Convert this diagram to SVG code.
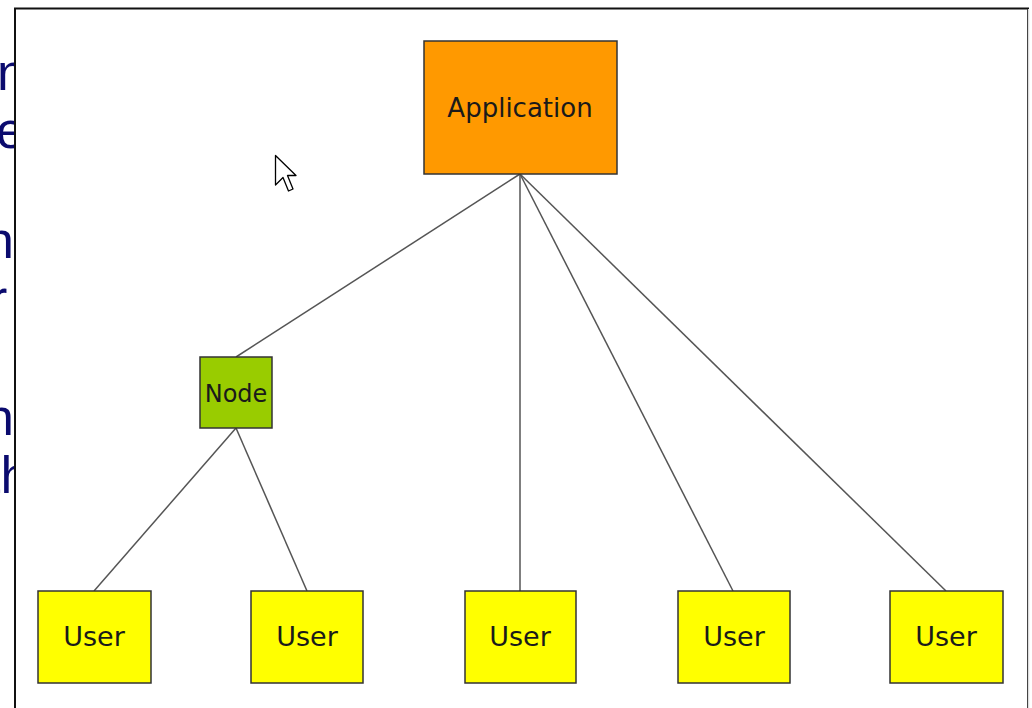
<svg xmlns="http://www.w3.org/2000/svg" width="1032" height="708" viewBox="0 0 1032 708">
<style>
.bg{font-family:"Liberation Sans",Arial,sans-serif;font-size:52px;fill:#0b0b6e}
.box{stroke:#333;stroke-width:1.5}
.lbl{font-family:"DejaVu Sans",Verdana,sans-serif;fill:#1a1a1a;text-anchor:middle}
.conn line{stroke:#555;stroke-width:1.5}
</style>
<rect width="1032" height="708" fill="#fff"/>
<g id="background-text">
<text class="bg" x="-3" y="90">n</text>
<text class="bg" x="-33" y="148">he</text>
<text class="bg" x="-15" y="258">n</text>
<text class="bg" x="-10" y="316">r</text>
<text class="bg" x="-15" y="435">n</text>
<text class="bg" x="-14" y="493">th</text>
</g>
<g id="panel">
<rect x="15" y="8.5" width="1013" height="710" fill="#fff" stroke="#111" stroke-width="2"/>
<line x1="1028.5" y1="9" x2="1028.5" y2="708" stroke="#ddd" stroke-width="1.5"/>
</g>
<g id="connectors" class="conn">
<line x1="520" y1="174" x2="236" y2="357"/>
<line x1="520" y1="174" x2="520" y2="591"/>
<line x1="520" y1="174" x2="733" y2="591"/>
<line x1="520" y1="174" x2="946" y2="591"/>
<line x1="236" y1="428" x2="94" y2="591"/>
<line x1="236" y1="428" x2="307" y2="591"/>
</g>
<g id="application">
<rect class="box" x="424" y="41" width="193" height="133" fill="#ff9900"/>
<text class="lbl" x="520" y="117" font-size="26">Application</text>
</g>
<g id="node">
<rect class="box" x="200" y="357" width="72" height="71" fill="#99cc00"/>
<text class="lbl" x="236" y="402" font-size="24">Node</text>
</g>
<g id="user1">
<rect class="box" x="38" y="591" width="113" height="92" fill="#ffff00"/>
<text class="lbl" x="94" y="646" font-size="27">User</text>
</g>
<g id="user2">
<rect class="box" x="251" y="591" width="112" height="92" fill="#ffff00"/>
<text class="lbl" x="307" y="646" font-size="27">User</text>
</g>
<g id="user3">
<rect class="box" x="465" y="591" width="111" height="92" fill="#ffff00"/>
<text class="lbl" x="520" y="646" font-size="27">User</text>
</g>
<g id="user4">
<rect class="box" x="678" y="591" width="112" height="92" fill="#ffff00"/>
<text class="lbl" x="734" y="646" font-size="27">User</text>
</g>
<g id="user5">
<rect class="box" x="890" y="591" width="113" height="92" fill="#ffff00"/>
<text class="lbl" x="946" y="646" font-size="27">User</text>
</g>
<g id="cursor">
<polygon points="275.5,155.5 275.5,185 283,177.5 288.5,191 293,189 287.5,175.5 296,175.5" fill="#fff" stroke="#000" stroke-width="1.3" stroke-linejoin="round"/>
</g>
</svg>
